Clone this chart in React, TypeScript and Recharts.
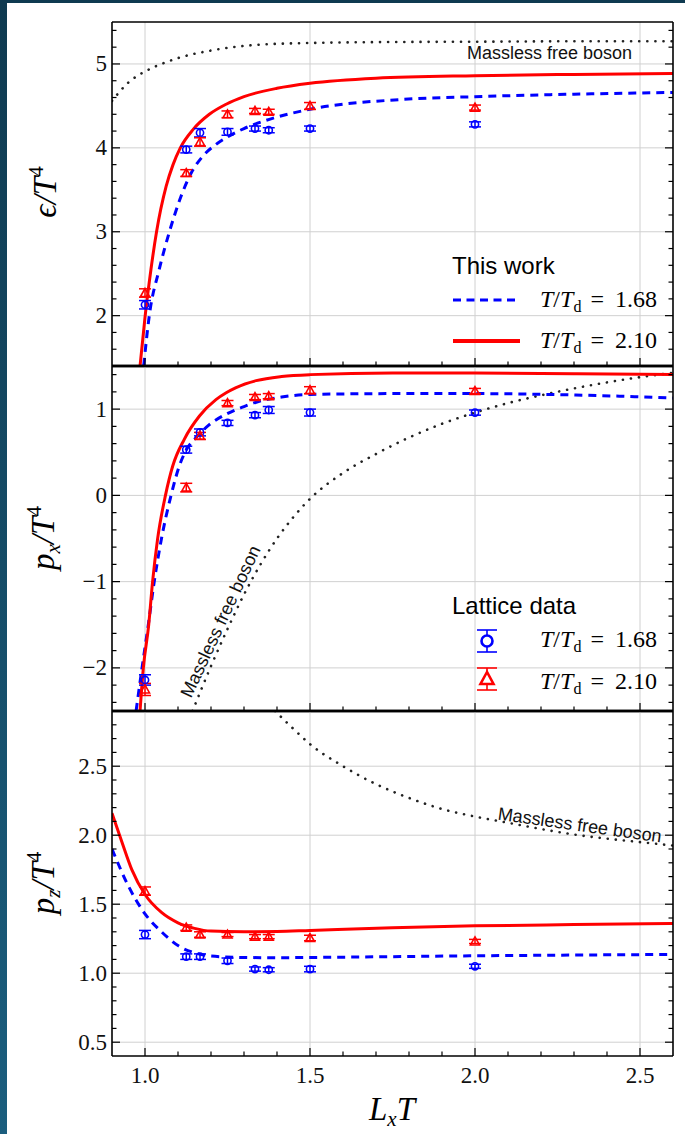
import React from "react";
import { ComposedChart, Line, Scatter, XAxis, YAxis, CartesianGrid, ErrorBar } from "recharts";

// page / plot geometry
const W = 685;
const H = 1134;
const PLOT_LEFT = 112;
const PLOT_RIGHT = 673;
const AX = 10; // size reserved for each axis
const PANELS_Y = [
  [22, 366],
  [366, 711],
  [711, 1056],
];

const SERIF = '"Liberation Serif", "Times New Roman", serif';
const SANS = '"Liberation Sans", Arial, sans-serif';
const BLUE = "#0000ff";
const RED = "#ff0000";

// x axis (L_x T)
const X_DOMAIN: [number, number] = [0.9, 2.6];
const X_TICKS = [1.0, 1.1, 1.2, 1.3, 1.4, 1.5, 1.6, 1.7, 1.8, 1.9, 2.0, 2.1, 2.2, 2.3, 2.4, 2.5];
const X_GRID = [1.0, 1.5, 2.0, 2.5];

// lattice L_x T values
const LATTICE_LXT = [1.0, 1.125, 1.1667, 1.25, 1.3333, 1.375, 1.5, 2.0];

// epsilon / T^4
const EPS_LAT_168 = [2.13, 3.98, 4.18, 4.19, 4.23, 4.21, 4.23, 4.28];
const EPS_LAT_168_ERR = [0.05, 0.04, 0.05, 0.04, 0.03, 0.03, 0.03, 0.03];
const EPS_LAT_210 = [2.27, 3.7, 4.07, 4.4, 4.44, 4.43, 4.5, 4.48];
const EPS_LAT_210_ERR = [0.05, 0.04, 0.05, 0.04, 0.03, 0.03, 0.04, 0.03];
const EPS_168_X = [0.996, 1.013, 1.043, 1.074, 1.109, 1.14, 1.175, 1.215, 1.25, 1.3, 1.377, 1.5, 1.77, 2.0, 2.3, 2.6];
const EPS_168_Y = [1.4, 2.0, 2.55, 3.0, 3.42, 3.7, 3.9, 4.04, 4.13, 4.23, 4.34, 4.46, 4.575, 4.61, 4.64, 4.66];
const EPS_210_X = [0.985, 1.0, 1.018, 1.035, 1.064, 1.085, 1.107, 1.146, 1.195, 1.246, 1.3, 1.4, 1.5, 1.7, 2.0, 2.3, 2.6];
const EPS_210_Y = [1.4, 1.98, 2.55, 3.0, 3.54, 3.8, 4.0, 4.22, 4.4, 4.52, 4.61, 4.71, 4.77, 4.83, 4.86, 4.875, 4.885];
const EPS_FREE_X = [0.9, 0.95, 1.0, 1.05, 1.1, 1.2, 1.3, 1.4, 1.5, 1.7, 2.0, 2.3, 2.6];
const EPS_FREE_Y = [4.56, 4.78, 4.91, 5.0, 5.07, 5.16, 5.215, 5.24, 5.25, 5.26, 5.265, 5.27, 5.27];

// p_x / T^4
const PX_LAT_168 = [-2.14, 0.53, 0.73, 0.84, 0.93, 0.99, 0.96, 0.96];
const PX_LAT_168_ERR = [0.06, 0.04, 0.04, 0.03, 0.03, 0.04, 0.04, 0.03];
const PX_LAT_210 = [-2.25, 0.09, 0.69, 1.07, 1.14, 1.15, 1.22, 1.21];
const PX_LAT_210_ERR = [0.07, 0.05, 0.04, 0.03, 0.03, 0.03, 0.04, 0.03];
const PX_168_X = [0.973, 0.991, 1.01, 1.028, 1.05, 1.079, 1.104, 1.124, 1.155, 1.195, 1.245, 1.3, 1.337, 1.414, 1.5, 1.77, 2.0, 2.23, 2.6];
const PX_168_Y = [-2.5, -2.0, -1.5, -1.0, -0.5, 0.0, 0.34, 0.52, 0.67, 0.82, 0.94, 1.03, 1.08, 1.14, 1.17, 1.18, 1.18, 1.17, 1.13];
const PX_210_X = [0.985, 0.995, 1.011, 1.023, 1.038, 1.062, 1.084, 1.119, 1.165, 1.215, 1.246, 1.276, 1.337, 1.414, 1.5, 1.75, 2.0, 2.3, 2.6];
const PX_210_Y = [-2.5, -2.0, -1.51, -1.0, -0.51, 0.0, 0.34, 0.65, 0.92, 1.11, 1.19, 1.25, 1.33, 1.378, 1.4, 1.42, 1.42, 1.41, 1.4];
const PX_FREE_X = [1.144, 1.2, 1.25, 1.3, 1.35, 1.4, 1.45, 1.5, 1.6, 1.7, 1.8, 1.9, 2.0, 2.1, 2.2, 2.3, 2.4, 2.5, 2.6];
const PX_FREE_Y = [-2.5, -1.98, -1.55, -1.15, -0.8, -0.5, -0.25, -0.04, 0.26, 0.48, 0.67, 0.83, 0.96, 1.07, 1.16, 1.24, 1.31, 1.37, 1.42];

// p_z / T^4
const PZ_LAT_168 = [1.28, 1.12, 1.12, 1.09, 1.03, 1.025, 1.03, 1.05];
const PZ_LAT_168_ERR = [0.03, 0.02, 0.02, 0.02, 0.015, 0.015, 0.02, 0.015];
const PZ_LAT_210 = [1.595, 1.33, 1.28, 1.28, 1.265, 1.265, 1.255, 1.23];
const PZ_LAT_210_ERR = [0.03, 0.02, 0.02, 0.015, 0.015, 0.015, 0.02, 0.015];
const PZ_168_X = [0.9, 0.95, 1.0, 1.05, 1.1, 1.15, 1.2, 1.3, 1.4, 1.5, 2.0, 2.6];
const PZ_168_Y = [1.9, 1.63, 1.43, 1.3, 1.2, 1.148, 1.124, 1.114, 1.112, 1.114, 1.126, 1.136];
const PZ_210_X = [0.9, 0.93, 0.96, 1.0, 1.05, 1.1, 1.15, 1.2, 1.3, 1.4, 1.5, 1.75, 2.0, 2.3, 2.6];
const PZ_210_Y = [2.16, 1.95, 1.75, 1.57, 1.44, 1.365, 1.325, 1.305, 1.3, 1.302, 1.31, 1.33, 1.343, 1.352, 1.36];
const PZ_FREE_X = [1.394, 1.45, 1.5, 1.6, 1.7, 1.8, 1.9, 2.0, 2.1, 2.2, 2.3, 2.4, 2.5, 2.6];
const PZ_FREE_Y = [2.9, 2.77, 2.66, 2.5, 2.37, 2.27, 2.19, 2.135, 2.09, 2.045, 2.005, 1.975, 1.95, 1.925];

// y ticks
const EPS_TICKS = [1.6, 1.8, 2, 2.2, 2.4, 2.6, 2.8, 3, 3.2, 3.4, 3.6, 3.8, 4, 4.2, 4.4, 4.6, 4.8, 5, 5.2, 5.4];
const EPS_GRID = [2, 3, 4, 5];
const PX_TICKS = [-2.4, -2.2, -2, -1.8, -1.6, -1.4, -1.2, -1, -0.8, -0.6, -0.4, -0.2, 0, 0.2, 0.4, 0.6, 0.8, 1, 1.2, 1.4];
const PX_GRID = [-2, -1, 0, 1];
const PZ_TICKS = [0.5, 0.6, 0.7, 0.8, 0.9, 1.0, 1.1, 1.2, 1.3, 1.4, 1.5, 1.6, 1.7, 1.8, 1.9, 2.0, 2.1, 2.2, 2.3, 2.4, 2.5, 2.6, 2.7, 2.8];
const PZ_GRID = [0.5, 1.0, 1.5, 2.0, 2.5];

const pts = (xs: number[], ys: number[]) => xs.map((x, i) => ({ x, y: ys[i] }));
const latPts = (ys: number[], err: number[]) => LATTICE_LXT.map((x, i) => ({ x, y: ys[i], err: err[i] }));

const isMajor = (v: number, step: number) => Math.abs(v / step - Math.round(v / step)) < 1e-6;

const xTick = (axisY: number, dir: number, labels: boolean) => (props: any) => {
  const { x, payload } = props;
  const v = payload.value;
  const major = isMajor(v, 0.5);
  return (
    <g>
      <line x1={x} x2={x} y1={axisY} y2={axisY + dir * (major ? 8 : 4.5)} stroke="#000" strokeWidth={1.2} />
      {labels && major && (
        <text x={x} y={axisY + 27} textAnchor="middle" fontFamily={SERIF} fontSize={23} fill="#111">
          {v.toFixed(1)}
        </text>
      )}
    </g>
  );
};

const yTick = (axisX: number, dir: number, step: number, fmt: ((v: number) => string) | null) => (props: any) => {
  const { y, payload } = props;
  const v = payload.value;
  const major = isMajor(v, step);
  return (
    <g>
      <line x1={axisX} x2={axisX + dir * (major ? 8 : 4.5)} y1={y} y2={y} stroke="#000" strokeWidth={1.2} />
      {fmt && major && (
        <text x={axisX - 5} y={y + 7.5} textAnchor="end" fontFamily={SERIF} fontSize={23} fill="#111">
          {fmt(v)}
        </text>
      )}
    </g>
  );
};

const circleShape = (props: any) => (
  <circle cx={props.cx} cy={props.cy} r={3.6} fill="none" stroke={BLUE} strokeWidth={1.6} />
);
const triangleShape = (props: any) => {
  const { cx, cy } = props;
  return (
    <polygon
      points={`${cx},${cy - 4.5} ${cx - 4.5},${cy + 3.5} ${cx + 4.5},${cy + 3.5}`}
      fill="none"
      stroke={RED}
      strokeWidth={1.6}
    />
  );
};

type PanelProps = {
  idx: number;
  yDomain: [number, number];
  yTicks: number[];
  yGrid: number[];
  yStep: number;
  yFmt: (v: number) => string;
  red: { x: number; y: number }[];
  blue: { x: number; y: number }[];
  free: { x: number; y: number }[];
  lat168: { x: number; y: number; err: number }[];
  lat210: { x: number; y: number; err: number }[];
};

function Panel({ idx, yDomain, yTicks, yGrid, yStep, yFmt, red, blue, free, lat168, lat210 }: PanelProps) {
  const [top, bottom] = PANELS_Y[idx];
  const last = idx === PANELS_Y.length - 1;
  return (
    <div style={{ position: "absolute", left: 0, top: 0 }}>
      <ComposedChart
        width={W}
        height={H}
        margin={{ top: top - AX, bottom: H - bottom - AX, left: PLOT_LEFT - AX, right: W - PLOT_RIGHT - AX }}
      >
        <CartesianGrid verticalValues={X_GRID} horizontalValues={yGrid} stroke="#d0d0d0" strokeWidth={1} />
        <XAxis
          dataKey="x"
          type="number"
          domain={X_DOMAIN}
          ticks={X_TICKS}
          interval={0}
          allowDataOverflow
          height={AX}
          tickLine={false}
          axisLine={{ stroke: "#000", strokeWidth: last ? 1.6 : 2.4 }}
          tick={xTick(bottom, -1, last)}
        />
        <XAxis
          xAxisId="top"
          orientation="top"
          type="number"
          domain={X_DOMAIN}
          ticks={X_TICKS}
          interval={0}
          allowDataOverflow
          height={AX}
          tickLine={false}
          axisLine={{ stroke: "#000", strokeWidth: idx === 0 ? 1.6 : 2.4 }}
          tick={xTick(top, 1, false)}
        />
        <YAxis
          type="number"
          domain={yDomain}
          ticks={yTicks}
          interval={0}
          allowDataOverflow
          width={AX}
          tickLine={false}
          axisLine={{ stroke: "#000", strokeWidth: 1.6 }}
          tick={yTick(PLOT_LEFT, 1, yStep, yFmt)}
        />
        <YAxis
          yAxisId="right"
          orientation="right"
          type="number"
          domain={yDomain}
          ticks={yTicks}
          interval={0}
          allowDataOverflow
          width={AX}
          tickLine={false}
          axisLine={{ stroke: "#000", strokeWidth: 1.6 }}
          tick={yTick(PLOT_RIGHT, -1, yStep, null)}
        />
        <Line
          data={free}
          dataKey="y"
          type="monotone"
          stroke="#222"
          strokeWidth={2.6}
          strokeDasharray="0.1 8"
          strokeLinecap="round"
          dot={false}
          isAnimationActive={false}
        />
        <Line
          data={blue}
          dataKey="y"
          type="monotone"
          stroke={BLUE}
          strokeWidth={3}
          strokeDasharray="8 6"
          dot={false}
          isAnimationActive={false}
        />
        <Line
          data={red}
          dataKey="y"
          type="monotone"
          stroke={RED}
          strokeWidth={3}
          dot={false}
          isAnimationActive={false}
        />
        <Scatter data={lat168} dataKey="y" shape={circleShape} isAnimationActive={false}>
          <ErrorBar dataKey="err" direction="y" width={6} stroke={BLUE} strokeWidth={1.5} />
        </Scatter>
        <Scatter data={lat210} dataKey="y" shape={triangleShape} isAnimationActive={false}>
          <ErrorBar dataKey="err" direction="y" width={6} stroke={RED} strokeWidth={1.5} />
        </Scatter>
      </ComposedChart>
    </div>
  );
}

const mathLabel = (value: string) => (
  <>
    <tspan fontStyle="italic">T</tspan>
    <tspan>/</tspan>
    <tspan fontStyle="italic">T</tspan>
    <tspan fontSize={16} dy={5}>d</tspan>
    <tspan dy={-5} dx={9}>=</tspan>
    <tspan dx={11}>{value}</tspan>
  </>
);

function Overlay() {
  return (
    <svg width={W} height={H} style={{ position: "absolute", left: 0, top: 0, pointerEvents: "none" }}>
      {/* y axis titles */}
      <text transform="translate(56,192) rotate(-90)" textAnchor="middle" fontFamily={SERIF} fontSize={33}>
        <tspan fontStyle="italic">ϵ/T</tspan>
        <tspan fontSize={21} dy={-13}>4</tspan>
      </text>
      <text transform="translate(54,538) rotate(-90)" textAnchor="middle" fontFamily={SERIF} fontSize={33}>
        <tspan fontStyle="italic">p</tspan>
        <tspan fontStyle="italic" fontSize={21} dy={6}>x</tspan>
        <tspan fontStyle="italic" dy={-6}>/T</tspan>
        <tspan fontSize={21} dy={-13}>4</tspan>
      </text>
      <text transform="translate(54,883) rotate(-90)" textAnchor="middle" fontFamily={SERIF} fontSize={33}>
        <tspan fontStyle="italic">p</tspan>
        <tspan fontStyle="italic" fontSize={21} dy={6}>z</tspan>
        <tspan fontStyle="italic" dy={-6}>/T</tspan>
        <tspan fontSize={21} dy={-13}>4</tspan>
      </text>
      {/* x axis title */}
      <text x={392} y={1120} textAnchor="middle" fontFamily={SERIF} fontSize={33} fontStyle="italic">
        L<tspan fontSize={21} dy={6}>x</tspan>
        <tspan dy={-6}>T</tspan>
      </text>

      {/* free boson annotations */}
      <text x={467} y={59} fontFamily={SANS} fontSize={18} fill="#111">Massless free boson</text>
      <text
        x={0}
        y={0}
        transform="translate(226,624) rotate(-65)"
        textAnchor="middle"
        fontFamily={SANS}
        fontSize={18}
        fill="#111"
      >
        Massless free boson
      </text>
      <text
        x={0}
        y={0}
        transform="translate(579,831) rotate(8)"
        textAnchor="middle"
        fontFamily={SANS}
        fontSize={18}
        fill="#111"
      >
        Massless free boson
      </text>

      {/* legend: this work */}
      <text x={452} y={274} fontFamily={SANS} fontSize={24}>This work</text>
      <line x1={453} x2={517} y1={300} y2={300} stroke={BLUE} strokeWidth={3} strokeDasharray="8 5.5" />
      <text x={540} y={307} fontFamily={SERIF} fontSize={24}>{mathLabel("1.68")}</text>
      <line x1={453} x2={520} y1={341} y2={341} stroke={RED} strokeWidth={4} />
      <text x={540} y={348} fontFamily={SERIF} fontSize={24}>{mathLabel("2.10")}</text>

      {/* legend: lattice data */}
      <text x={452} y={614} fontFamily={SANS} fontSize={24}>Lattice data</text>
      <line x1={477} x2={497} y1={630} y2={630} stroke={BLUE} strokeWidth={1.6} />
      <line x1={477} x2={497} y1={652} y2={652} stroke={BLUE} strokeWidth={1.6} />
      <line x1={487} x2={487} y1={630} y2={652} stroke={BLUE} strokeWidth={1.6} />
      <circle cx={487} cy={641} r={5.5} fill="#fff" stroke={BLUE} strokeWidth={2.6} />
      <text x={540} y={647} fontFamily={SERIF} fontSize={24}>{mathLabel("1.68")}</text>
      <line x1={477} x2={497} y1={668} y2={668} stroke={RED} strokeWidth={1.6} />
      <line x1={477} x2={497} y1={690} y2={690} stroke={RED} strokeWidth={1.6} />
      <line x1={487} x2={487} y1={668} y2={690} stroke={RED} strokeWidth={1.6} />
      <polygon points="487,672 480.5,684 493.5,684" fill="#fff" stroke={RED} strokeWidth={2.6} />
      <text x={540} y={689} fontFamily={SERIF} fontSize={24}>{mathLabel("2.10")}</text>
    </svg>
  );
}

export default function App() {
  return (
    <div
      style={{
        position: "absolute",
        left: 0,
        top: 0,
        width: W,
        height: H,
        background: "linear-gradient(#0f3a50, #1b5e7e)",
        overflow: "hidden",
      }}
    >
      <div style={{ position: "absolute", left: 7, top: 3, right: 0, bottom: 0, background: "#fff" }} />
      <Panel
        idx={0}
        yDomain={[1.4, 5.5]}
        yTicks={EPS_TICKS}
        yGrid={EPS_GRID}
        yStep={1}
        yFmt={(v) => String(v)}
        red={pts(EPS_210_X, EPS_210_Y)}
        blue={pts(EPS_168_X, EPS_168_Y)}
        free={pts(EPS_FREE_X, EPS_FREE_Y)}
        lat168={latPts(EPS_LAT_168, EPS_LAT_168_ERR)}
        lat210={latPts(EPS_LAT_210, EPS_LAT_210_ERR)}
      />
      <Panel
        idx={1}
        yDomain={[-2.5, 1.5]}
        yTicks={PX_TICKS}
        yGrid={PX_GRID}
        yStep={1}
        yFmt={(v) => (v < 0 ? `\u2212${Math.abs(v)}` : String(v))}
        red={pts(PX_210_X, PX_210_Y)}
        blue={pts(PX_168_X, PX_168_Y)}
        free={pts(PX_FREE_X, PX_FREE_Y)}
        lat168={latPts(PX_LAT_168, PX_LAT_168_ERR)}
        lat210={latPts(PX_LAT_210, PX_LAT_210_ERR)}
      />
      <Panel
        idx={2}
        yDomain={[0.4, 2.9]}
        yTicks={PZ_TICKS}
        yGrid={PZ_GRID}
        yStep={0.5}
        yFmt={(v) => v.toFixed(1)}
        red={pts(PZ_210_X, PZ_210_Y)}
        blue={pts(PZ_168_X, PZ_168_Y)}
        free={pts(PZ_FREE_X, PZ_FREE_Y)}
        lat168={latPts(PZ_LAT_168, PZ_LAT_168_ERR)}
        lat210={latPts(PZ_LAT_210, PZ_LAT_210_ERR)}
      />
      <Overlay />
    </div>
  );
}
